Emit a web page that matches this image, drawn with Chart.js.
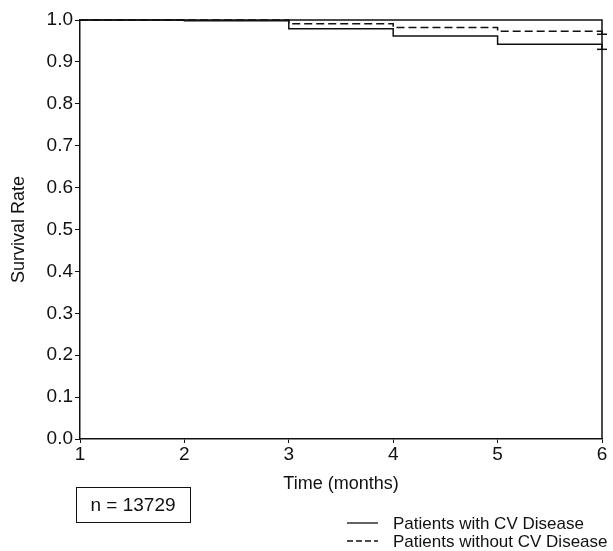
<!DOCTYPE html>
<html>
<head>
<meta charset="utf-8">
<title>Survival Rate</title>
<script src="https://cdn.jsdelivr.net/npm/chart.js@4.4.1/dist/chart.umd.min.js"></script>
<style>
  html, body { margin: 0; padding: 0; background: #fff; }
  #wrap { width: 613px; height: 551px; position: relative; }
</style>
</head>
<body>
<div id="wrap"><canvas id="chart"></canvas></div>
<script>
// data
const months = [1, 2, 3, 4, 5, 6];
const withCV = [1.0, 0.998, 0.979, 0.962, 0.942, 0.930];
const withoutCV = [1.0, 1.0, 0.991, 0.982, 0.973, 0.966];
const seriesLabels = ['Patients with CV Disease', 'Patients without CV Disease'];
const xTicks = [1, 2, 3, 4, 5, 6];
const yTicks = [0, 0.1, 0.2, 0.3, 0.4, 0.5, 0.6, 0.7, 0.8, 0.9, 1.0];
const sampleNote = 'n = 13729';

const FONT = 'Liberation Sans, Arial, Helvetica, sans-serif';
const INK = '#111';

// only the last point gets the small end mark
const endMark = months.map((m, i) => (i === months.length - 1 ? 5 : 0));

// top + right frame, n box and the legend under the plot
const extras = {
  id: 'extras',
  afterDatasetsDraw(chart) {
    const { ctx, chartArea: a } = chart;
    ctx.save();
    ctx.strokeStyle = INK;
    ctx.lineWidth = 1.5;
    ctx.beginPath();
    ctx.moveTo(a.left, a.top);
    ctx.lineTo(a.right, a.top);
    ctx.lineTo(a.right, a.bottom);
    ctx.stroke();

    // n box
    ctx.lineWidth = 1;
    ctx.strokeRect(76.5, 487.5, 114, 35);
    ctx.fillStyle = INK;
    ctx.font = '19px ' + FONT;
    ctx.textAlign = 'center';
    ctx.textBaseline = 'middle';
    ctx.fillText(sampleNote, 133, 506);

    // legend
    ctx.font = '17px ' + FONT;
    ctx.textAlign = 'left';
    const dashes = [[], [6, 3]];
    chart.data.datasets.forEach((ds, i) => {
      const y = 523 + i * 18;
      ctx.setLineDash(dashes[i]);
      ctx.lineWidth = 1.3;
      ctx.beginPath();
      ctx.moveTo(347, y);
      ctx.lineTo(378, y);
      ctx.stroke();
      ctx.setLineDash([]);
      ctx.fillText(ds.label, 393, y + 1);
    });
    ctx.restore();
  }
};

new Chart(document.getElementById('chart').getContext('2d'), {
  type: 'line',
  data: {
    labels: months,
    datasets: [
      {
        label: seriesLabels[0],
        data: months.map((m, i) => ({ x: m, y: withCV[i] })),
        borderColor: INK,
        borderWidth: 1.5,
        stepped: 'before',
        pointStyle: 'line',
        pointRadius: endMark,
        pointBorderColor: INK,
        pointBorderWidth: 1.5,
        clip: false
      },
      {
        label: seriesLabels[1],
        data: months.map((m, i) => ({ x: m, y: withoutCV[i] })),
        borderColor: INK,
        borderWidth: 1.5,
        borderDash: [8, 4],
        stepped: 'before',
        pointStyle: 'line',
        pointRadius: endMark,
        pointBorderColor: INK,
        pointBorderWidth: 1.5,
        clip: false
      }
    ]
  },
  options: {
    responsive: true,
    maintainAspectRatio: false,
    animation: false,
    layout: { padding: { left: 0, top: 20, right: 11, bottom: 52 } },
    plugins: {
      legend: { display: false },
      tooltip: { enabled: false }
    },
    scales: {
      x: {
        type: 'linear',
        min: 1,
        max: 6,
        afterBuildTicks: (s) => { s.ticks = xTicks.map(v => ({ value: v })); },
        afterFit: (s) => { s.height = 60; },
        grid: { drawOnChartArea: false, color: INK, tickLength: 4, tickWidth: 1 },
        border: { color: INK, width: 1.5 },
        ticks: { color: INK, font: { family: FONT, size: 19 }, padding: 0, maxRotation: 0 },
        title: { display: true, text: 'Time (months)', color: INK, font: { family: FONT, size: 18 }, padding: { top: 0, bottom: 4 } }
      },
      y: {
        min: 0,
        max: 1,
        afterBuildTicks: (s) => { s.ticks = yTicks.map(v => ({ value: v })); },
        afterFit: (s) => { s.width = 80; },
        grid: { drawOnChartArea: false, color: INK, tickLength: 5, tickWidth: 1 },
        border: { color: INK, width: 1.5 },
        ticks: { color: INK, font: { family: FONT, size: 19 }, padding: 2, callback: (v) => Number(v).toFixed(1) },
        title: { display: true, text: 'Survival Rate', color: INK, font: { family: FONT, size: 18 }, padding: { top: 8, bottom: 0 } }
      }
    }
  },
  plugins: [extras]
});
</script>
</body>
</html>
